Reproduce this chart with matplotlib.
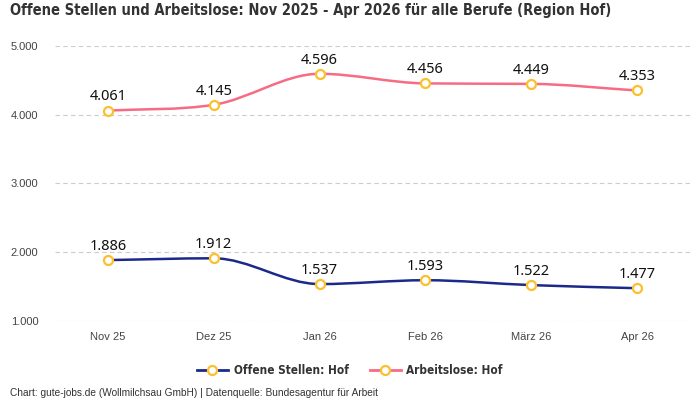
import matplotlib
matplotlib.use('Agg')
import matplotlib.pyplot as plt
from matplotlib.path import Path
from matplotlib.patches import PathPatch
from matplotlib.lines import Line2D
import numpy as np

# data
months = ['Nov 25', 'Dez 25', 'Jan 26', 'Feb 26', 'März 26', 'Apr 26']
offene_stellen = [1886, 1912, 1537, 1593, 1522, 1477]
arbeitslose = [4061, 4145, 4596, 4456, 4449, 4353]

BLUE = '#1b2a8a'
PINK = '#f76b84'
YELLOW = '#fbc02d'


def fmt_de(v):
    return f'{v:,.0f}'.replace(',', '.')


def monotone_path(x, y):
    """Build a Bezier path through the points with monotone (Fritsch-Carlson) tangents."""
    x = np.asarray(x, float)
    y = np.asarray(y, float)
    h = np.diff(x)
    d = np.diff(y) / h
    m = np.zeros_like(y)
    m[0], m[-1] = d[0], d[-1]
    for i in range(1, len(y) - 1):
        if d[i - 1] * d[i] <= 0:
            m[i] = 0
        else:
            m[i] = (d[i - 1] + d[i]) / 2
    for i in range(len(d)):
        if d[i] == 0:
            m[i] = m[i + 1] = 0
            continue
        a, b = m[i] / d[i], m[i + 1] / d[i]
        s = a * a + b * b
        if s > 9:
            t = 3 / np.sqrt(s)
            m[i] = t * a * d[i]
            m[i + 1] = t * b * d[i]
    verts = [(x[0], y[0])]
    codes = [Path.MOVETO]
    for i in range(len(d)):
        verts += [(x[i] + h[i] / 3, y[i] + m[i] * h[i] / 3),
                  (x[i + 1] - h[i] / 3, y[i + 1] - m[i + 1] * h[i] / 3),
                  (x[i + 1], y[i + 1])]
        codes += [Path.CURVE4] * 3
    return Path(verts, codes)


plt.rcParams['font.family'] = ['Liberation Sans', 'DejaVu Sans']

fig = plt.figure(figsize=(7, 4), dpi=100)
ax = fig.add_axes([55 / 700, 1 - 321 / 400, 635 / 700, 275 / 400])

xs = np.arange(len(months))
for vals, color in [(offene_stellen, BLUE), (arbeitslose, PINK)]:
    ax.add_patch(PathPatch(monotone_path(xs, vals), fill=False, edgecolor=color,
                           lw=1.8, zorder=3))
    ax.plot(xs, vals, ls='none', marker='o', ms=6.5, mfc='white', mec=YELLOW,
            mew=1.6, zorder=4)
    for xi, v in zip(xs, vals):
        ax.annotate(fmt_de(v), (xi, v), xytext=(0, 4.5), textcoords='offset points',
                    ha='center', va='bottom', fontsize=10.5, color='#111111',
                    family=['Noto Sans', 'DejaVu Sans'], fontweight='medium')

ax.set_xlim(-0.5, len(months) - 0.5)
ax.set_ylim(1000, 5000)
ax.set_yticks([1000, 2000, 3000, 4000, 5000])
ax.set_yticklabels([fmt_de(v) for v in [1000, 2000, 3000, 4000, 5000]])
ax.set_xticks(xs)
ax.set_xticklabels(months)
ax.tick_params(length=0, labelsize=8, colors='#444444')
ax.tick_params(axis='y', pad=12)
ax.tick_params(axis='x', pad=8)
ax.grid(axis='y', ls=(0, (4, 3)), color='#cccccc', lw=0.8)
ax.set_axisbelow(True)
for s in ax.spines.values():
    s.set_visible(False)

fig.text(10 / 700, 1 - 11 / 400, 'Offene Stellen und Arbeitslose: Nov 2025 - Apr 2026 für alle Berufe (Region Hof)',
         ha='left', va='center', fontsize=10.5, fontweight='bold', color='#333333',
         family='DejaVu Sans', fontstretch='condensed')

handles = [Line2D([], [], color=BLUE, lw=2, marker='o', ms=6.5, mfc='white', mec=YELLOW, mew=1.6),
           Line2D([], [], color=PINK, lw=2, marker='o', ms=6.5, mfc='white', mec=YELLOW, mew=1.6)]
leg = fig.legend(handles, ['Offene Stellen: Hof', 'Arbeitslose: Hof'], loc='center',
                 bbox_to_anchor=(0.5, 1 - 371 / 400), ncol=2, frameon=False,
                 handlelength=2.6, columnspacing=1.8, handletextpad=0.5,
                 prop={'family': 'DejaVu Sans', 'stretch': 'condensed', 'weight': 'bold', 'size': 8.5})
for t in leg.get_texts():
    t.set_color('#333333')

fig.text(10 / 700, 1 - 393 / 400, 'Chart: gute-jobs.de (Wollmilchsau GmbH) | Datenquelle: Bundesagentur für Arbeit',
         ha='left', va='center', fontsize=7.3, color='#333333')

fig.savefig('out.png', dpi=100)
